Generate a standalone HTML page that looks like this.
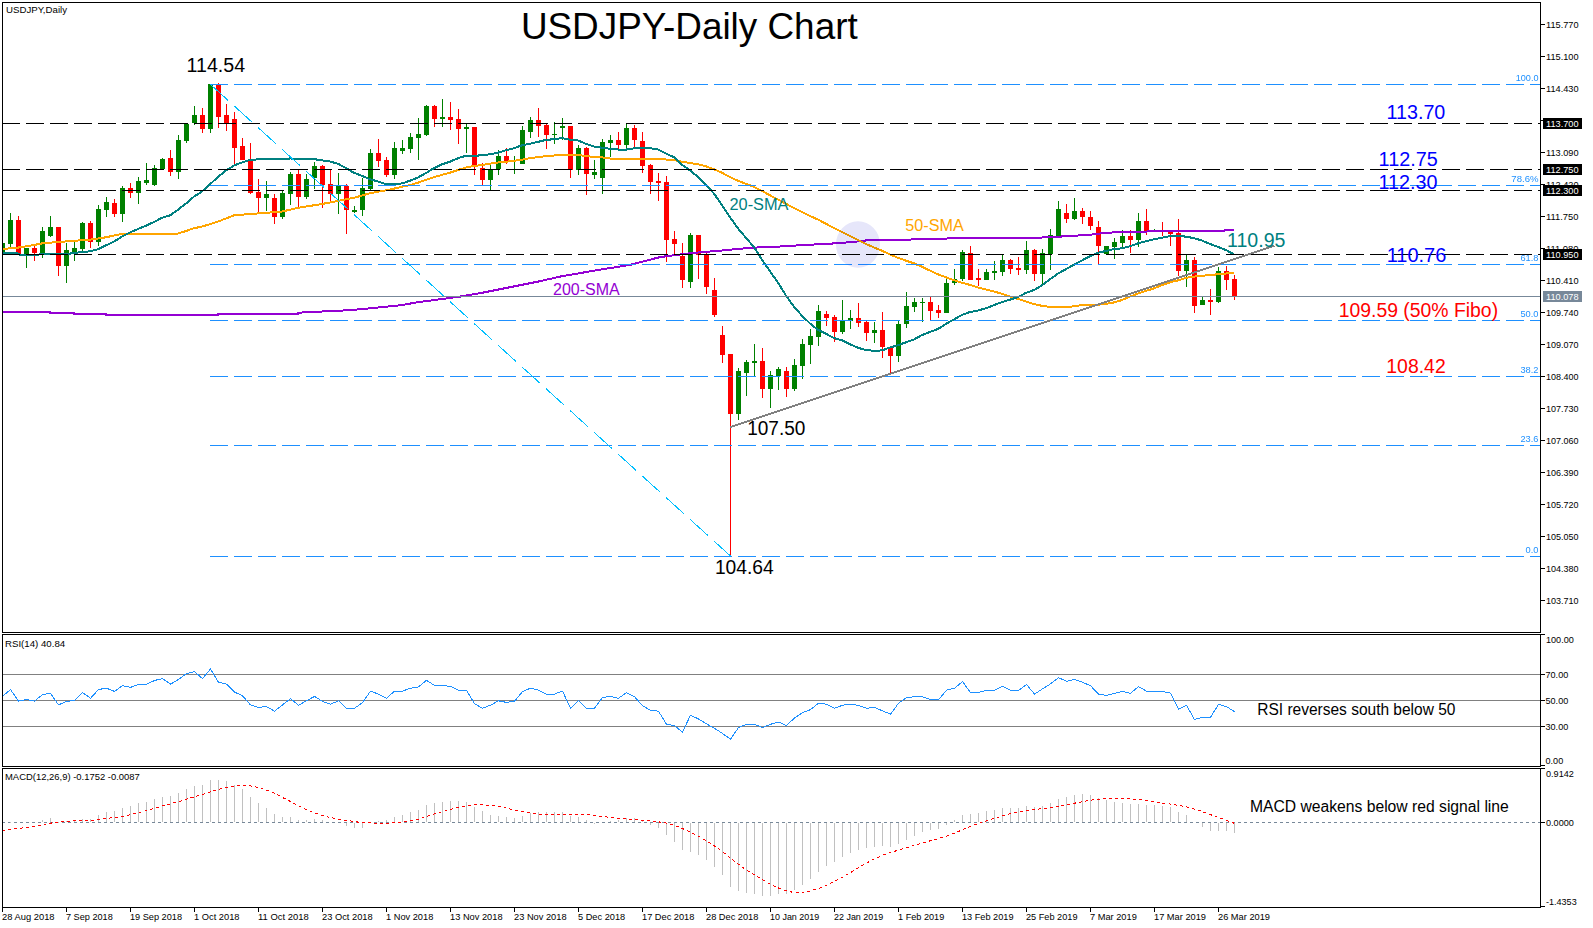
<!DOCTYPE html>
<html><head><meta charset="utf-8"><title>USDJPY-Daily Chart</title>
<style>
html,body{margin:0;padding:0;background:#fff;overflow:hidden;}
svg{display:block;}
text{font-family:"Liberation Sans", Arial, sans-serif;}
.ax{font-size:10px;fill:#000;}
.big{font-size:19px;}
</style></head><body>
<svg width="1593" height="928" viewBox="0 0 1593 928">
<rect x="0" y="0" width="1593" height="928" fill="#fff"/>
<defs><clipPath id="cm"><rect x="3" y="3" width="1537" height="629"/></clipPath>
<clipPath id="cr"><rect x="3" y="635" width="1537" height="131"/></clipPath>
<clipPath id="cd"><rect x="3" y="769" width="1537" height="138"/></clipPath></defs>

<g clip-path="url(#cm)">
<g shape-rendering="crispEdges">
<rect x="2" y="240" width="1" height="16" fill="#008000"/>
<rect x="0" y="243" width="5" height="11" fill="#008000"/>
<rect x="10" y="213" width="1" height="34" fill="#008000"/>
<rect x="8" y="220" width="5" height="24" fill="#008000"/>
<rect x="18" y="216" width="1" height="38" fill="#ff0000"/>
<rect x="16" y="220" width="5" height="34" fill="#ff0000"/>
<rect x="26" y="248" width="1" height="20" fill="#008000"/>
<rect x="24" y="248" width="5" height="7" fill="#008000"/>
<rect x="34" y="246" width="1" height="15" fill="#ff0000"/>
<rect x="32" y="248" width="5" height="5" fill="#ff0000"/>
<rect x="42" y="227" width="1" height="31" fill="#008000"/>
<rect x="40" y="231" width="5" height="22" fill="#008000"/>
<rect x="50" y="216" width="1" height="21" fill="#008000"/>
<rect x="48" y="227" width="5" height="9" fill="#008000"/>
<rect x="58" y="227" width="1" height="49" fill="#ff0000"/>
<rect x="56" y="227" width="5" height="39" fill="#ff0000"/>
<rect x="66" y="243" width="1" height="40" fill="#008000"/>
<rect x="64" y="250" width="5" height="16" fill="#008000"/>
<rect x="74" y="242" width="1" height="19" fill="#008000"/>
<rect x="72" y="248" width="5" height="4" fill="#008000"/>
<rect x="82" y="222" width="1" height="29" fill="#008000"/>
<rect x="80" y="223" width="5" height="26" fill="#008000"/>
<rect x="90" y="221" width="1" height="27" fill="#ff0000"/>
<rect x="88" y="223" width="5" height="19" fill="#ff0000"/>
<rect x="98" y="205" width="1" height="41" fill="#008000"/>
<rect x="96" y="209" width="5" height="33" fill="#008000"/>
<rect x="106" y="197" width="1" height="20" fill="#008000"/>
<rect x="104" y="202" width="5" height="8" fill="#008000"/>
<rect x="114" y="199" width="1" height="18" fill="#ff0000"/>
<rect x="112" y="203" width="5" height="11" fill="#ff0000"/>
<rect x="122" y="186" width="1" height="36" fill="#008000"/>
<rect x="120" y="188" width="5" height="26" fill="#008000"/>
<rect x="130" y="183" width="1" height="15" fill="#ff0000"/>
<rect x="128" y="188" width="5" height="5" fill="#ff0000"/>
<rect x="138" y="177" width="1" height="27" fill="#008000"/>
<rect x="136" y="181" width="5" height="12" fill="#008000"/>
<rect x="146" y="163" width="1" height="22" fill="#008000"/>
<rect x="144" y="180" width="5" height="3" fill="#008000"/>
<rect x="154" y="165" width="1" height="21" fill="#008000"/>
<rect x="152" y="168" width="5" height="17" fill="#008000"/>
<rect x="162" y="158" width="1" height="11" fill="#008000"/>
<rect x="160" y="159" width="5" height="10" fill="#008000"/>
<rect x="170" y="150" width="1" height="26" fill="#ff0000"/>
<rect x="168" y="158" width="5" height="14" fill="#ff0000"/>
<rect x="178" y="135" width="1" height="44" fill="#008000"/>
<rect x="176" y="140" width="5" height="32" fill="#008000"/>
<rect x="186" y="124" width="1" height="19" fill="#008000"/>
<rect x="184" y="124" width="5" height="17" fill="#008000"/>
<rect x="194" y="106" width="1" height="19" fill="#008000"/>
<rect x="192" y="115" width="5" height="8" fill="#008000"/>
<rect x="202" y="108" width="1" height="25" fill="#ff0000"/>
<rect x="200" y="115" width="5" height="14" fill="#ff0000"/>
<rect x="210" y="84" width="1" height="49" fill="#008000"/>
<rect x="208" y="84" width="5" height="45" fill="#008000"/>
<rect x="218" y="83" width="1" height="45" fill="#ff0000"/>
<rect x="216" y="85" width="5" height="32" fill="#ff0000"/>
<rect x="226" y="104" width="1" height="27" fill="#ff0000"/>
<rect x="224" y="115" width="5" height="8" fill="#ff0000"/>
<rect x="234" y="112" width="1" height="52" fill="#ff0000"/>
<rect x="232" y="119" width="5" height="29" fill="#ff0000"/>
<rect x="242" y="138" width="1" height="22" fill="#ff0000"/>
<rect x="240" y="146" width="5" height="14" fill="#ff0000"/>
<rect x="250" y="143" width="1" height="51" fill="#ff0000"/>
<rect x="248" y="159" width="5" height="34" fill="#ff0000"/>
<rect x="258" y="179" width="1" height="34" fill="#ff0000"/>
<rect x="256" y="192" width="5" height="6" fill="#ff0000"/>
<rect x="266" y="181" width="1" height="30" fill="#008000"/>
<rect x="264" y="194" width="5" height="4" fill="#008000"/>
<rect x="274" y="194" width="1" height="30" fill="#ff0000"/>
<rect x="272" y="198" width="5" height="19" fill="#ff0000"/>
<rect x="282" y="190" width="1" height="29" fill="#008000"/>
<rect x="280" y="193" width="5" height="24" fill="#008000"/>
<rect x="290" y="172" width="1" height="33" fill="#008000"/>
<rect x="288" y="174" width="5" height="20" fill="#008000"/>
<rect x="298" y="170" width="1" height="38" fill="#ff0000"/>
<rect x="296" y="174" width="5" height="23" fill="#ff0000"/>
<rect x="306" y="174" width="1" height="25" fill="#008000"/>
<rect x="304" y="179" width="5" height="18" fill="#008000"/>
<rect x="314" y="162" width="1" height="27" fill="#008000"/>
<rect x="312" y="166" width="5" height="12" fill="#008000"/>
<rect x="322" y="165" width="1" height="43" fill="#ff0000"/>
<rect x="320" y="166" width="5" height="19" fill="#ff0000"/>
<rect x="330" y="170" width="1" height="31" fill="#ff0000"/>
<rect x="328" y="184" width="5" height="10" fill="#ff0000"/>
<rect x="338" y="173" width="1" height="41" fill="#008000"/>
<rect x="336" y="186" width="5" height="8" fill="#008000"/>
<rect x="346" y="184" width="1" height="50" fill="#ff0000"/>
<rect x="344" y="186" width="5" height="24" fill="#ff0000"/>
<rect x="354" y="206" width="1" height="7" fill="#008000"/>
<rect x="352" y="210" width="5" height="2" fill="#008000"/>
<rect x="362" y="178" width="1" height="38" fill="#008000"/>
<rect x="360" y="188" width="5" height="22" fill="#008000"/>
<rect x="370" y="149" width="1" height="41" fill="#008000"/>
<rect x="368" y="153" width="5" height="36" fill="#008000"/>
<rect x="378" y="139" width="1" height="28" fill="#ff0000"/>
<rect x="376" y="153" width="5" height="8" fill="#ff0000"/>
<rect x="386" y="157" width="1" height="20" fill="#ff0000"/>
<rect x="384" y="160" width="5" height="15" fill="#ff0000"/>
<rect x="394" y="142" width="1" height="37" fill="#008000"/>
<rect x="392" y="148" width="5" height="27" fill="#008000"/>
<rect x="402" y="140" width="1" height="14" fill="#008000"/>
<rect x="400" y="148" width="5" height="3" fill="#008000"/>
<rect x="410" y="133" width="1" height="20" fill="#008000"/>
<rect x="408" y="137" width="5" height="12" fill="#008000"/>
<rect x="418" y="118" width="1" height="42" fill="#008000"/>
<rect x="416" y="134" width="5" height="4" fill="#008000"/>
<rect x="426" y="105" width="1" height="31" fill="#008000"/>
<rect x="424" y="106" width="5" height="29" fill="#008000"/>
<rect x="434" y="105" width="1" height="22" fill="#ff0000"/>
<rect x="432" y="106" width="5" height="13" fill="#ff0000"/>
<rect x="442" y="99" width="1" height="28" fill="#008000"/>
<rect x="440" y="117" width="5" height="2" fill="#008000"/>
<rect x="450" y="102" width="1" height="28" fill="#ff0000"/>
<rect x="448" y="117" width="5" height="3" fill="#ff0000"/>
<rect x="458" y="109" width="1" height="35" fill="#ff0000"/>
<rect x="456" y="119" width="5" height="10" fill="#ff0000"/>
<rect x="466" y="124" width="1" height="29" fill="#008000"/>
<rect x="464" y="127" width="5" height="2" fill="#008000"/>
<rect x="474" y="127" width="1" height="48" fill="#ff0000"/>
<rect x="472" y="127" width="5" height="39" fill="#ff0000"/>
<rect x="482" y="163" width="1" height="22" fill="#ff0000"/>
<rect x="480" y="168" width="5" height="12" fill="#ff0000"/>
<rect x="490" y="165" width="1" height="25" fill="#008000"/>
<rect x="488" y="170" width="5" height="10" fill="#008000"/>
<rect x="498" y="150" width="1" height="25" fill="#008000"/>
<rect x="496" y="156" width="5" height="13" fill="#008000"/>
<rect x="506" y="148" width="1" height="16" fill="#ff0000"/>
<rect x="504" y="156" width="5" height="5" fill="#ff0000"/>
<rect x="514" y="156" width="1" height="18" fill="#008000"/>
<rect x="512" y="169" width="5" height="1" fill="#008000"/>
<rect x="522" y="126" width="1" height="38" fill="#008000"/>
<rect x="520" y="130" width="5" height="34" fill="#008000"/>
<rect x="530" y="117" width="1" height="21" fill="#008000"/>
<rect x="528" y="120" width="5" height="12" fill="#008000"/>
<rect x="538" y="108" width="1" height="29" fill="#ff0000"/>
<rect x="536" y="120" width="5" height="6" fill="#ff0000"/>
<rect x="546" y="124" width="1" height="25" fill="#ff0000"/>
<rect x="544" y="125" width="5" height="10" fill="#ff0000"/>
<rect x="554" y="122" width="1" height="22" fill="#008000"/>
<rect x="552" y="134" width="5" height="1" fill="#008000"/>
<rect x="562" y="118" width="1" height="22" fill="#008000"/>
<rect x="560" y="126" width="5" height="2" fill="#008000"/>
<rect x="570" y="126" width="1" height="52" fill="#ff0000"/>
<rect x="568" y="126" width="5" height="44" fill="#ff0000"/>
<rect x="578" y="145" width="1" height="30" fill="#008000"/>
<rect x="576" y="148" width="5" height="22" fill="#008000"/>
<rect x="586" y="147" width="1" height="48" fill="#ff0000"/>
<rect x="584" y="148" width="5" height="26" fill="#ff0000"/>
<rect x="594" y="160" width="1" height="19" fill="#008000"/>
<rect x="592" y="172" width="5" height="3" fill="#008000"/>
<rect x="602" y="139" width="1" height="55" fill="#008000"/>
<rect x="600" y="142" width="5" height="36" fill="#008000"/>
<rect x="610" y="135" width="1" height="22" fill="#008000"/>
<rect x="608" y="140" width="5" height="3" fill="#008000"/>
<rect x="618" y="132" width="1" height="19" fill="#ff0000"/>
<rect x="616" y="140" width="5" height="5" fill="#ff0000"/>
<rect x="626" y="124" width="1" height="24" fill="#008000"/>
<rect x="624" y="128" width="5" height="17" fill="#008000"/>
<rect x="634" y="125" width="1" height="22" fill="#ff0000"/>
<rect x="632" y="128" width="5" height="12" fill="#ff0000"/>
<rect x="642" y="132" width="1" height="41" fill="#ff0000"/>
<rect x="640" y="141" width="5" height="25" fill="#ff0000"/>
<rect x="650" y="164" width="1" height="30" fill="#ff0000"/>
<rect x="648" y="165" width="5" height="17" fill="#ff0000"/>
<rect x="658" y="173" width="1" height="28" fill="#ff0000"/>
<rect x="656" y="181" width="5" height="2" fill="#ff0000"/>
<rect x="666" y="176" width="1" height="86" fill="#ff0000"/>
<rect x="664" y="182" width="5" height="58" fill="#ff0000"/>
<rect x="674" y="231" width="1" height="24" fill="#ff0000"/>
<rect x="672" y="239" width="5" height="5" fill="#ff0000"/>
<rect x="682" y="243" width="1" height="45" fill="#ff0000"/>
<rect x="680" y="256" width="5" height="24" fill="#ff0000"/>
<rect x="690" y="233" width="1" height="55" fill="#008000"/>
<rect x="688" y="235" width="5" height="47" fill="#008000"/>
<rect x="698" y="235" width="1" height="44" fill="#ff0000"/>
<rect x="696" y="235" width="5" height="20" fill="#ff0000"/>
<rect x="706" y="253" width="1" height="41" fill="#ff0000"/>
<rect x="704" y="254" width="5" height="33" fill="#ff0000"/>
<rect x="714" y="278" width="1" height="39" fill="#ff0000"/>
<rect x="712" y="290" width="5" height="25" fill="#ff0000"/>
<rect x="722" y="326" width="1" height="37" fill="#ff0000"/>
<rect x="720" y="335" width="5" height="20" fill="#ff0000"/>
<rect x="730" y="354" width="1" height="202" fill="#ff0000"/>
<rect x="728" y="354" width="5" height="60" fill="#ff0000"/>
<rect x="738" y="368" width="1" height="52" fill="#008000"/>
<rect x="736" y="371" width="5" height="43" fill="#008000"/>
<rect x="746" y="360" width="1" height="36" fill="#008000"/>
<rect x="744" y="362" width="5" height="11" fill="#008000"/>
<rect x="754" y="344" width="1" height="32" fill="#008000"/>
<rect x="752" y="361" width="5" height="2" fill="#008000"/>
<rect x="762" y="348" width="1" height="50" fill="#ff0000"/>
<rect x="760" y="361" width="5" height="28" fill="#ff0000"/>
<rect x="770" y="371" width="1" height="37" fill="#008000"/>
<rect x="768" y="375" width="5" height="14" fill="#008000"/>
<rect x="778" y="367" width="1" height="23" fill="#008000"/>
<rect x="776" y="369" width="5" height="7" fill="#008000"/>
<rect x="786" y="367" width="1" height="30" fill="#ff0000"/>
<rect x="784" y="371" width="5" height="18" fill="#ff0000"/>
<rect x="794" y="359" width="1" height="32" fill="#008000"/>
<rect x="792" y="365" width="5" height="24" fill="#008000"/>
<rect x="802" y="339" width="1" height="40" fill="#008000"/>
<rect x="800" y="344" width="5" height="22" fill="#008000"/>
<rect x="810" y="329" width="1" height="35" fill="#008000"/>
<rect x="808" y="336" width="5" height="9" fill="#008000"/>
<rect x="818" y="305" width="1" height="41" fill="#008000"/>
<rect x="816" y="311" width="5" height="26" fill="#008000"/>
<rect x="826" y="311" width="1" height="15" fill="#ff0000"/>
<rect x="824" y="314" width="5" height="4" fill="#ff0000"/>
<rect x="834" y="315" width="1" height="27" fill="#ff0000"/>
<rect x="832" y="317" width="5" height="15" fill="#ff0000"/>
<rect x="842" y="300" width="1" height="34" fill="#008000"/>
<rect x="840" y="321" width="5" height="11" fill="#008000"/>
<rect x="850" y="310" width="1" height="19" fill="#008000"/>
<rect x="848" y="318" width="5" height="3" fill="#008000"/>
<rect x="858" y="303" width="1" height="24" fill="#ff0000"/>
<rect x="856" y="318" width="5" height="5" fill="#ff0000"/>
<rect x="866" y="321" width="1" height="20" fill="#ff0000"/>
<rect x="864" y="322" width="5" height="11" fill="#ff0000"/>
<rect x="874" y="322" width="1" height="21" fill="#008000"/>
<rect x="872" y="330" width="5" height="3" fill="#008000"/>
<rect x="882" y="312" width="1" height="46" fill="#ff0000"/>
<rect x="880" y="330" width="5" height="17" fill="#ff0000"/>
<rect x="890" y="346" width="1" height="27" fill="#ff0000"/>
<rect x="888" y="347" width="5" height="9" fill="#ff0000"/>
<rect x="898" y="321" width="1" height="41" fill="#008000"/>
<rect x="896" y="324" width="5" height="32" fill="#008000"/>
<rect x="906" y="292" width="1" height="36" fill="#008000"/>
<rect x="904" y="306" width="5" height="18" fill="#008000"/>
<rect x="914" y="298" width="1" height="14" fill="#008000"/>
<rect x="912" y="302" width="5" height="5" fill="#008000"/>
<rect x="922" y="298" width="1" height="24" fill="#008000"/>
<rect x="920" y="302" width="5" height="1" fill="#008000"/>
<rect x="930" y="296" width="1" height="24" fill="#ff0000"/>
<rect x="928" y="302" width="5" height="9" fill="#ff0000"/>
<rect x="938" y="305" width="1" height="13" fill="#ff0000"/>
<rect x="936" y="310" width="5" height="3" fill="#ff0000"/>
<rect x="946" y="279" width="1" height="34" fill="#008000"/>
<rect x="944" y="283" width="5" height="30" fill="#008000"/>
<rect x="954" y="269" width="1" height="16" fill="#008000"/>
<rect x="952" y="279" width="5" height="4" fill="#008000"/>
<rect x="962" y="250" width="1" height="31" fill="#008000"/>
<rect x="960" y="252" width="5" height="27" fill="#008000"/>
<rect x="970" y="246" width="1" height="34" fill="#ff0000"/>
<rect x="968" y="253" width="5" height="27" fill="#ff0000"/>
<rect x="978" y="269" width="1" height="17" fill="#ff0000"/>
<rect x="976" y="278" width="5" height="2" fill="#ff0000"/>
<rect x="986" y="269" width="1" height="11" fill="#008000"/>
<rect x="984" y="272" width="5" height="8" fill="#008000"/>
<rect x="994" y="261" width="1" height="19" fill="#008000"/>
<rect x="992" y="271" width="5" height="2" fill="#008000"/>
<rect x="1002" y="255" width="1" height="21" fill="#008000"/>
<rect x="1000" y="260" width="5" height="12" fill="#008000"/>
<rect x="1010" y="259" width="1" height="15" fill="#ff0000"/>
<rect x="1008" y="260" width="5" height="9" fill="#ff0000"/>
<rect x="1018" y="257" width="1" height="18" fill="#ff0000"/>
<rect x="1016" y="268" width="5" height="2" fill="#ff0000"/>
<rect x="1026" y="241" width="1" height="33" fill="#008000"/>
<rect x="1024" y="250" width="5" height="20" fill="#008000"/>
<rect x="1034" y="249" width="1" height="32" fill="#ff0000"/>
<rect x="1032" y="250" width="5" height="24" fill="#ff0000"/>
<rect x="1042" y="249" width="1" height="35" fill="#008000"/>
<rect x="1040" y="253" width="5" height="21" fill="#008000"/>
<rect x="1050" y="229" width="1" height="41" fill="#008000"/>
<rect x="1048" y="235" width="5" height="19" fill="#008000"/>
<rect x="1058" y="201" width="1" height="35" fill="#008000"/>
<rect x="1056" y="209" width="5" height="27" fill="#008000"/>
<rect x="1066" y="204" width="1" height="19" fill="#ff0000"/>
<rect x="1064" y="213" width="5" height="6" fill="#ff0000"/>
<rect x="1074" y="198" width="1" height="22" fill="#008000"/>
<rect x="1072" y="211" width="5" height="8" fill="#008000"/>
<rect x="1082" y="208" width="1" height="16" fill="#ff0000"/>
<rect x="1080" y="211" width="5" height="6" fill="#ff0000"/>
<rect x="1090" y="211" width="1" height="19" fill="#ff0000"/>
<rect x="1088" y="217" width="5" height="9" fill="#ff0000"/>
<rect x="1098" y="221" width="1" height="43" fill="#ff0000"/>
<rect x="1096" y="227" width="5" height="19" fill="#ff0000"/>
<rect x="1106" y="246" width="1" height="8" fill="#008000"/>
<rect x="1104" y="246" width="5" height="8" fill="#008000"/>
<rect x="1114" y="238" width="1" height="21" fill="#008000"/>
<rect x="1112" y="242" width="5" height="5" fill="#008000"/>
<rect x="1122" y="230" width="1" height="18" fill="#008000"/>
<rect x="1120" y="236" width="5" height="7" fill="#008000"/>
<rect x="1130" y="230" width="1" height="23" fill="#ff0000"/>
<rect x="1128" y="236" width="5" height="4" fill="#ff0000"/>
<rect x="1138" y="213" width="1" height="34" fill="#008000"/>
<rect x="1136" y="221" width="5" height="19" fill="#008000"/>
<rect x="1146" y="209" width="1" height="26" fill="#ff0000"/>
<rect x="1144" y="221" width="5" height="10" fill="#ff0000"/>
<rect x="1154" y="229" width="1" height="3" fill="#008000"/>
<rect x="1152" y="230" width="5" height="1.5" fill="#008000"/>
<rect x="1162" y="222" width="1" height="14" fill="#ff0000"/>
<rect x="1160" y="230" width="5" height="1" fill="#ff0000"/>
<rect x="1170" y="230" width="1" height="16" fill="#ff0000"/>
<rect x="1168" y="231" width="5" height="3" fill="#ff0000"/>
<rect x="1178" y="219" width="1" height="57" fill="#ff0000"/>
<rect x="1176" y="233" width="5" height="38" fill="#ff0000"/>
<rect x="1186" y="255" width="1" height="32" fill="#008000"/>
<rect x="1184" y="260" width="5" height="11" fill="#008000"/>
<rect x="1194" y="257" width="1" height="56" fill="#ff0000"/>
<rect x="1192" y="260" width="5" height="46" fill="#ff0000"/>
<rect x="1202" y="296" width="1" height="9" fill="#008000"/>
<rect x="1200" y="300" width="5" height="5" fill="#008000"/>
<rect x="1210" y="289" width="1" height="26" fill="#ff0000"/>
<rect x="1208" y="300" width="5" height="2" fill="#ff0000"/>
<rect x="1218" y="267" width="1" height="36" fill="#008000"/>
<rect x="1216" y="271" width="5" height="31" fill="#008000"/>
<rect x="1226" y="266" width="1" height="24" fill="#ff0000"/>
<rect x="1224" y="271" width="5" height="9" fill="#ff0000"/>
<rect x="1234" y="275" width="1" height="25" fill="#ff0000"/>
<rect x="1232" y="279" width="5" height="17" fill="#ff0000"/>
</g>
<polyline points="2,311.9 50,311.9 50,313.3 74,313.3 74,314.3 106,314.3 106,314.9 218,314.9 218,313.9 298,313.9 298,312.7 314,311.9 340,310.7 360,309.3 380,307.3 400,305.3 420,301.9 440,299.3 460,296.6 480,293.2 500,289.2 520,285.2 540,281.2 560,276.6 580,273.1 600,269.7 630,264.9 660,257.1 690,253.2 720,250.7 750,247.8 780,246.5 810,244.7 830,243.7 845,242.6 855,241.7 870,240 920,239.4 960,238.1 1000,238.1 1040,237.6 1060,236.6 1090,234.8 1106,232.7 1154,231.3 1170,230.6 1186,230.6 1218,231 1226,230.4 1234,230" fill="none" stroke="#9400d3" stroke-width="2" shape-rendering="crispEdges" stroke-linejoin="round"/>
<polyline points="2,249 18,247.6 34,245 42,243.4 58,242 74,240.8 90,239.7 106,237.3 122,233.8 146,233.6 178,233.6 186,231 194,228.2 202,226.6 218,221.6 234,215.3 258,213.4 282,211.6 298,207.8 322,204 338,200.9 354,197.8 370,193.2 386,190.3 394,188.64 402,186.74 410,185.08 418,182.68 426,179.84 434,177.16 442,174.88 450,172.74 458,170 466,167.54 474,165.9 482,165.04 490,163.6 498,162.54 506,161.72 514,160.82 522,159.66 530,158.2 538,157.1 546,156.2 554,155.52 562,154.86 570,154.82 578,154.98 586,155.98 594,157.12 602,157.38 610,158.5 618,159.06 626,159.16 634,159 642,159.12 650,158.9 658,158.6 666,159.52 674,160.06 682,161.8 690,163.02 698,164.18 706,166.34 714,169.32 722,172.72 730,177.12 738,180.82 746,183.86 754,186.88 762,190.9 770,195.34 778,199.5 786,203.78 794,208.12 802,212.04 810,216.02 818,219.56 826,223.8 834,228.06 842,232.14 850,236.1 858,239.98 866,244.1 874,247.38 882,250.72 890,254.44 898,257.8 906,260.7 914,263.36 922,266.8 930,270.62 938,274.36 946,277.32 954,280.22 962,282.74 970,284.94 978,287.58 986,289.54 994,291.52 1002,293.88 1010,296.46 1018,298.96 1026,301.4 1034,304.08 1042,305.82 1050,306.88 1058,307.4 1066,306.98 1074,306.32 1082,305.06 1090,304.88 1098,304.7 1106,303.88 1114,302.42 1122,300.04 1130,296.56 1138,293.56 1146,290.94 1154,288.32 1162,285.16 1170,282.34 1178,280.38 1186,277.8 1194,276.62 1202,275.74 1210,275.06 1218,274.26 1226,273.5 1234,272.78" fill="none" stroke="#ffa500" stroke-width="2" shape-rendering="crispEdges" stroke-linejoin="round"/>
<polyline points="2,252.7 18,253.5 20,254.8 66,254.1 82,252 90,251.3 98,249.2 114,241.5 122,236.6 130,232.4 146,225.7 154,222 162,217.8 170,215.4 178,209.7 186,203.5 194,196.6 202,191.5 210,184.35 218,176.9 226,170.55 234,165.55 242,162.4 250,159.95 258,159.4 266,159 274,159.15 282,159.4 290,158.45 298,159.25 306,159.2 314,159.1 322,160.4 330,161.5 338,163.8 346,168.1 354,172.85 362,175.8 370,179.25 378,181.45 386,184.05 394,184.05 402,183.45 410,180.65 418,177.45 426,173.05 434,168.15 442,164.35 450,161.65 458,158.25 466,155.65 474,155.65 482,155.4 490,154.2 498,152.7 506,150.25 514,148.2 522,145.3 530,143.65 538,141.9 546,139.9 554,139.2 562,138.1 570,139.75 578,140.45 586,143.85 594,146.5 602,147.75 610,148.75 618,149.55 626,149.6 634,148.3 642,147.6 650,148.2 658,149.55 666,153.5 674,157.25 682,164.75 690,170.5 698,176.95 706,184.55 714,193.6 722,205.05 730,217.25 738,228.4 746,237.8 754,247.25 762,259.6 770,271.35 778,282.55 786,295.6 794,306.85 802,315.75 810,323.45 818,329.85 826,333.75 834,338.15 842,340.2 850,344.35 858,347.75 866,350.05 874,350.8 882,350.4 890,347.5 898,345.15 906,342.35 914,339.4 922,335.05 930,331.85 938,329.05 946,323.75 954,319.45 962,314.85 970,312.05 978,310.5 986,308.2 994,305.15 1002,302.1 1010,299.65 1018,297 1026,292.85 1034,290.05 1042,285.35 1050,279.3 1058,273.55 1066,269.2 1074,264.65 1082,260.4 1090,256.15 1098,252.8 1106,250.95 1114,249.1 1122,248.3 1130,246.3 1138,243.35 1146,241.3 1154,239.25 1162,237.8 1170,236.05 1178,236.1 1186,236.6 1194,238.2 1202,240.55 1210,243.9 1218,247 1226,250.05 1234,254.3" fill="none" stroke="#008080" stroke-width="2" shape-rendering="crispEdges" stroke-linejoin="round"/>
<g shape-rendering="crispEdges" stroke="#000" stroke-width="1" stroke-dasharray="18 6">
<line x1="2" y1="123.5" x2="1540" y2="123.5"/>
<line x1="2" y1="169.5" x2="1540" y2="169.5"/>
<line x1="2" y1="190.5" x2="1540" y2="190.5"/>
<line x1="2" y1="254.5" x2="1540" y2="254.5"/>
</g>
<line x1="2" y1="296.5" x2="1540" y2="296.5" stroke="#778899" stroke-width="1" shape-rendering="crispEdges"/>
<g shape-rendering="crispEdges" stroke="#1e90ff" stroke-width="1" stroke-dasharray="18 6">
<line x1="210" y1="84.5" x2="1540" y2="84.5"/>
<line x1="210" y1="185.5" x2="1540" y2="185.5"/>
<line x1="210" y1="264.5" x2="1540" y2="264.5"/>
<line x1="210" y1="320.5" x2="1540" y2="320.5"/>
<line x1="210" y1="376.5" x2="1540" y2="376.5"/>
<line x1="210" y1="445.5" x2="1540" y2="445.5"/>
<line x1="210" y1="556.5" x2="1540" y2="556.5"/>
</g>
<line x1="210" y1="84" x2="730.5" y2="556" stroke="#00bfff" stroke-width="1" stroke-dasharray="24.3 8.1" shape-rendering="crispEdges"/>
<text x="1538.5" y="81" font-size="9.5" fill="#1e90ff" textLength="22.75" lengthAdjust="spacingAndGlyphs" text-anchor="end" style="font-family:"DejaVu Sans Condensed", "DejaVu Sans", sans-serif;font-stretch:condensed">100.0</text>
<text x="1538.5" y="182" font-size="9.5" fill="#1e90ff" textLength="27.15" lengthAdjust="spacingAndGlyphs" text-anchor="end" style="font-family:"DejaVu Sans Condensed", "DejaVu Sans", sans-serif;font-stretch:condensed">78.6%</text>
<text x="1538.5" y="261" font-size="9.5" fill="#1e90ff" textLength="18.07" lengthAdjust="spacingAndGlyphs" text-anchor="end" style="font-family:"DejaVu Sans Condensed", "DejaVu Sans", sans-serif;font-stretch:condensed">61.8</text>
<text x="1538.5" y="317" font-size="9.5" fill="#1e90ff" textLength="18.07" lengthAdjust="spacingAndGlyphs" text-anchor="end" style="font-family:"DejaVu Sans Condensed", "DejaVu Sans", sans-serif;font-stretch:condensed">50.0</text>
<text x="1538.5" y="373" font-size="9.5" fill="#1e90ff" textLength="18.07" lengthAdjust="spacingAndGlyphs" text-anchor="end" style="font-family:"DejaVu Sans Condensed", "DejaVu Sans", sans-serif;font-stretch:condensed">38.2</text>
<text x="1538.5" y="442" font-size="9.5" fill="#1e90ff" textLength="18.07" lengthAdjust="spacingAndGlyphs" text-anchor="end" style="font-family:"DejaVu Sans Condensed", "DejaVu Sans", sans-serif;font-stretch:condensed">23.6</text>
<text x="1538.5" y="553" font-size="9.5" fill="#1e90ff" textLength="12.91" lengthAdjust="spacingAndGlyphs" text-anchor="end" style="font-family:"DejaVu Sans Condensed", "DejaVu Sans", sans-serif;font-stretch:condensed">0.0</text>
<line x1="730" y1="427.2" x2="1274.3" y2="245.8" stroke="#808080" stroke-width="2" shape-rendering="crispEdges"/>
<ellipse cx="858" cy="244.5" rx="22" ry="23.2" fill="#e6e6fa" style="mix-blend-mode:multiply"/>
</g>
<text x="520.9" y="39.4" font-size="36.5" fill="#000" textLength="336.79" lengthAdjust="spacingAndGlyphs">USDJPY-Daily Chart</text>
<text x="6" y="12.5" font-size="9.5" fill="#000" textLength="61.00" lengthAdjust="spacingAndGlyphs" style="font-family:"DejaVu Sans Condensed", "DejaVu Sans", sans-serif;font-stretch:condensed">USDJPY,Daily</text>
<text x="186.5" y="71.9" font-size="19.5" fill="#000" textLength="58.62" lengthAdjust="spacingAndGlyphs">114.54</text>
<text x="747.2" y="434.9" font-size="19.5" fill="#000" textLength="58.22" lengthAdjust="spacingAndGlyphs">107.50</text>
<text x="714.9" y="573.9" font-size="19.5" fill="#000" textLength="58.84" lengthAdjust="spacingAndGlyphs">104.64</text>
<text x="1386.5" y="119.3" font-size="19.5" fill="#0000ff" textLength="58.81" lengthAdjust="spacingAndGlyphs">113.70</text>
<text x="1378.6" y="165.7" font-size="19.5" fill="#0000ff" textLength="59.07" lengthAdjust="spacingAndGlyphs">112.75</text>
<text x="1378.6" y="188.7" font-size="19.5" fill="#0000ff" textLength="59.02" lengthAdjust="spacingAndGlyphs">112.30</text>
<text x="1386.7" y="262.2" font-size="19.5" fill="#0000ff" textLength="59.67" lengthAdjust="spacingAndGlyphs">110.76</text>
<text x="1338.7" y="316.9" font-size="19.5" fill="#ff0000" textLength="159.42" lengthAdjust="spacingAndGlyphs">109.59 (50% Fibo)</text>
<text x="1386.3" y="372.8" font-size="19.5" fill="#ff0000" textLength="59.45" lengthAdjust="spacingAndGlyphs">108.42</text>
<text x="1227.0" y="246.8" font-size="19.5" fill="#008080" textLength="58.43" lengthAdjust="spacingAndGlyphs">110.95</text>
<text x="729.5" y="210.0" font-size="16.0" fill="#008080" textLength="59.02" lengthAdjust="spacingAndGlyphs">20-SMA</text>
<text x="905.3" y="230.8" font-size="16.0" fill="#ffa500" textLength="58.4" lengthAdjust="spacingAndGlyphs">50-SMA</text>
<text x="553.0" y="295.2" font-size="16.0" fill="#9400d3" textLength="66.7" lengthAdjust="spacingAndGlyphs">200-SMA</text>
<g shape-rendering="crispEdges" stroke="#808080" stroke-width="1">
<line x1="2" y1="674.5" x2="1540" y2="674.5"/>
<line x1="2" y1="700.5" x2="1540" y2="700.5"/>
<line x1="2" y1="726.5" x2="1540" y2="726.5"/>
</g>
<g clip-path="url(#cr)"><polyline points="2.5,696.4 10.5,689.5 18.5,701.2 26.5,699.5 34.5,701.2 42.5,694.5 50.5,693.3 58.5,704.9 66.5,701.4 74.5,700.4 82.5,692.4 90.5,698.3 98.5,689.5 106.5,688.2 114.5,691.4 122.5,685.7 130.5,687.4 138.5,684.5 146.5,684.2 154.5,680.5 162.5,678.6 170.5,684.1 178.5,679.5 186.5,673.6 194.5,671.6 202.5,678.6 210.5,669 218.5,682.3 226.5,684.1 234.5,692 242.5,695.8 250.5,704.9 258.5,707.5 266.5,706.5 274.5,711.2 282.5,704.9 290.5,698.7 298.5,705.2 306.5,700.8 314.5,696.4 322.5,701.4 330.5,704.2 338.5,700.8 346.5,708.3 354.5,708.3 362.5,702.7 370.5,691.1 378.5,694.1 386.5,698.3 394.5,691.1 402.5,691.1 410.5,688.2 418.5,687 426.5,680.3 434.5,685.4 442.5,685.4 450.5,686.4 458.5,690.1 466.5,690.1 474.5,703.7 482.5,708.3 490.5,705.2 498.5,700.8 506.5,702.4 514.5,701.2 522.5,691.6 530.5,688.2 538.5,690.1 546.5,694.1 554.5,694.1 562.5,691.1 570.5,708.3 578.5,700.8 586.5,708.3 594.5,708.3 602.5,697.4 610.5,696.4 618.5,698.3 626.5,692.6 634.5,696.7 642.5,705.8 650.5,710.2 658.5,711.2 666.5,724.3 674.5,725.5 682.5,732.2 690.5,715.2 698.5,719 706.5,723.8 714.5,728.4 722.5,733.4 730.5,739.3 738.5,727.5 746.5,724.4 754.5,724.4 762.5,727.5 770.5,724.3 778.5,722.1 786.5,725.5 794.5,718 802.5,712.7 810.5,709.6 818.5,703.3 826.5,704.2 834.5,708.3 842.5,705.2 850.5,704.2 858.5,705.4 866.5,708.3 874.5,707.5 882.5,710.8 890.5,714.2 898.5,703.3 906.5,697.7 914.5,696.7 922.5,696.7 930.5,699.5 938.5,699.9 946.5,690.1 954.5,688.2 962.5,681.6 970.5,692.4 978.5,692.4 986.5,690.4 994.5,690.4 1002.5,686.1 1010.5,690.1 1018.5,690.4 1026.5,684.5 1034.5,694.1 1042.5,688.9 1050.5,683.9 1058.5,677.6 1066.5,681.3 1074.5,679.5 1082.5,682.3 1090.5,685.7 1098.5,694.1 1106.5,695.4 1114.5,693.3 1122.5,691.4 1130.5,693.3 1138.5,686.6 1146.5,691.2 1154.5,691.5 1162.5,691.5 1170.5,693.2 1178.5,709.3 1186.5,705.3 1194.5,719.5 1202.5,717.3 1210.5,717.3 1218.5,704.4 1226.5,706.6 1234.5,711.6" fill="none" stroke="#1e90ff" stroke-width="1" shape-rendering="crispEdges"/></g>
<text x="5" y="646.6" font-size="9.5" fill="#000" textLength="60.20" lengthAdjust="spacingAndGlyphs" style="font-family:"DejaVu Sans Condensed", "DejaVu Sans", sans-serif;font-stretch:condensed">RSI(14) 40.84</text>
<text x="1257.3" y="714.9" font-size="16.0" fill="#000" textLength="198.1" lengthAdjust="spacingAndGlyphs">RSI reverses south below 50</text>
<line x1="2" y1="822.5" x2="1540" y2="822.5" stroke="#778899" stroke-width="1" stroke-dasharray="3 3" shape-rendering="crispEdges"/>
<g clip-path="url(#cd)" shape-rendering="crispEdges" fill="#c0c0c0">
<rect x="10" y="821.7" width="1" height="1"/>
<rect x="42" y="820.2" width="1" height="1.8"/>
<rect x="50" y="818.2" width="1" height="3.8"/>
<rect x="58" y="821.7" width="1" height="1"/>
<rect x="66" y="821" width="1" height="1"/>
<rect x="74" y="820" width="1" height="2"/>
<rect x="82" y="819.2" width="1" height="2.8"/>
<rect x="90" y="819.2" width="1" height="2.8"/>
<rect x="98" y="815.2" width="1" height="6.8"/>
<rect x="106" y="812.2" width="1" height="9.8"/>
<rect x="114" y="811.2" width="1" height="10.8"/>
<rect x="122" y="808.2" width="1" height="13.8"/>
<rect x="130" y="806.2" width="1" height="15.8"/>
<rect x="138" y="803.1" width="1" height="18.9"/>
<rect x="146" y="802.1" width="1" height="19.9"/>
<rect x="154" y="799.1" width="1" height="22.9"/>
<rect x="162" y="797.1" width="1" height="24.9"/>
<rect x="170" y="796.1" width="1" height="25.9"/>
<rect x="178" y="793.1" width="1" height="28.9"/>
<rect x="186" y="789.1" width="1" height="32.9"/>
<rect x="194" y="786.1" width="1" height="35.9"/>
<rect x="202" y="785.1" width="1" height="36.9"/>
<rect x="210" y="780" width="1" height="42"/>
<rect x="218" y="780" width="1" height="42"/>
<rect x="226" y="781" width="1" height="41"/>
<rect x="234" y="785.1" width="1" height="36.9"/>
<rect x="242" y="789.1" width="1" height="32.9"/>
<rect x="250" y="797.1" width="1" height="24.9"/>
<rect x="258" y="803.1" width="1" height="18.9"/>
<rect x="266" y="808.2" width="1" height="13.8"/>
<rect x="274" y="814" width="1" height="8"/>
<rect x="282" y="817" width="1" height="5"/>
<rect x="290" y="817" width="1" height="5"/>
<rect x="298" y="819.9" width="1" height="2.1"/>
<rect x="306" y="820.2" width="1" height="1.8"/>
<rect x="314" y="818.9" width="1" height="3.1"/>
<rect x="322" y="819.9" width="1" height="2.1"/>
<rect x="346" y="823" width="1" height="2.8"/>
<rect x="354" y="823" width="1" height="4.7"/>
<rect x="362" y="823" width="1" height="4.7"/>
<rect x="378" y="821.2" width="1" height="1"/>
<rect x="386" y="819.9" width="1" height="2.1"/>
<rect x="394" y="817" width="1" height="5"/>
<rect x="402" y="815.2" width="1" height="6.8"/>
<rect x="410" y="812" width="1" height="10"/>
<rect x="418" y="810.1" width="1" height="11.9"/>
<rect x="426" y="805.1" width="1" height="16.9"/>
<rect x="434" y="803.2" width="1" height="18.8"/>
<rect x="442" y="802" width="1" height="20"/>
<rect x="450" y="801.1" width="1" height="20.9"/>
<rect x="458" y="801.1" width="1" height="20.9"/>
<rect x="466" y="802" width="1" height="20"/>
<rect x="474" y="807" width="1" height="15"/>
<rect x="482" y="811.1" width="1" height="10.9"/>
<rect x="490" y="815.1" width="1" height="6.9"/>
<rect x="498" y="816.1" width="1" height="5.9"/>
<rect x="506" y="817" width="1" height="5"/>
<rect x="514" y="818.2" width="1" height="3.8"/>
<rect x="522" y="816.1" width="1" height="5.9"/>
<rect x="530" y="813.2" width="1" height="8.8"/>
<rect x="538" y="812.3" width="1" height="9.7"/>
<rect x="546" y="812" width="1" height="10"/>
<rect x="554" y="812" width="1" height="10"/>
<rect x="562" y="812.3" width="1" height="9.7"/>
<rect x="570" y="815.7" width="1" height="6.3"/>
<rect x="578" y="817" width="1" height="5"/>
<rect x="586" y="820.1" width="1" height="1.9"/>
<rect x="594" y="823" width="1" height="1"/>
<rect x="610" y="821" width="1" height="1"/>
<rect x="618" y="819.9" width="1" height="2.1"/>
<rect x="626" y="818.2" width="1" height="3.8"/>
<rect x="634" y="818.2" width="1" height="3.8"/>
<rect x="642" y="820.1" width="1" height="1.9"/>
<rect x="650" y="823" width="1" height="1.9"/>
<rect x="658" y="823" width="1" height="4.7"/>
<rect x="666" y="823" width="1" height="11.6"/>
<rect x="674" y="823" width="1" height="18.6"/>
<rect x="682" y="823" width="1" height="26.9"/>
<rect x="690" y="823" width="1" height="28.7"/>
<rect x="698" y="823" width="1" height="31.6"/>
<rect x="706" y="823" width="1" height="36.6"/>
<rect x="714" y="823" width="1" height="43.7"/>
<rect x="722" y="823" width="1" height="51.7"/>
<rect x="730" y="823" width="1" height="63.6"/>
<rect x="738" y="823" width="1" height="67.6"/>
<rect x="746" y="823" width="1" height="69.9"/>
<rect x="754" y="823" width="1" height="70.9"/>
<rect x="762" y="823" width="1" height="72.6"/>
<rect x="770" y="823" width="1" height="72.6"/>
<rect x="778" y="823" width="1" height="70.9"/>
<rect x="786" y="823" width="1" height="70.9"/>
<rect x="794" y="823" width="1" height="66.7"/>
<rect x="802" y="823" width="1" height="61.7"/>
<rect x="810" y="823" width="1" height="55.8"/>
<rect x="818" y="823" width="1" height="48.8"/>
<rect x="826" y="823" width="1" height="42.9"/>
<rect x="834" y="823" width="1" height="38.7"/>
<rect x="842" y="823" width="1" height="34.1"/>
<rect x="850" y="823" width="1" height="29.7"/>
<rect x="858" y="823" width="1" height="26.9"/>
<rect x="866" y="823" width="1" height="24.8"/>
<rect x="874" y="823" width="1" height="23.7"/>
<rect x="882" y="823" width="1" height="22.9"/>
<rect x="890" y="823" width="1" height="23.7"/>
<rect x="898" y="823" width="1" height="20.7"/>
<rect x="906" y="823" width="1" height="16.6"/>
<rect x="914" y="823" width="1" height="12.8"/>
<rect x="922" y="823" width="1" height="8.7"/>
<rect x="930" y="823" width="1" height="6.9"/>
<rect x="938" y="823" width="1" height="5.7"/>
<rect x="946" y="823" width="1" height="1.5"/>
<rect x="954" y="820.1" width="1" height="1.9"/>
<rect x="962" y="815.1" width="1" height="6.9"/>
<rect x="970" y="813.9" width="1" height="8.1"/>
<rect x="978" y="813.2" width="1" height="8.8"/>
<rect x="986" y="811.1" width="1" height="10.9"/>
<rect x="994" y="810.1" width="1" height="11.9"/>
<rect x="1002" y="808.2" width="1" height="13.8"/>
<rect x="1010" y="808.2" width="1" height="13.8"/>
<rect x="1018" y="808.2" width="1" height="13.8"/>
<rect x="1026" y="806.1" width="1" height="15.9"/>
<rect x="1034" y="806.9" width="1" height="15.1"/>
<rect x="1042" y="806.1" width="1" height="15.9"/>
<rect x="1050" y="803.1" width="1" height="18.9"/>
<rect x="1058" y="799.1" width="1" height="22.9"/>
<rect x="1066" y="796.9" width="1" height="25.1"/>
<rect x="1074" y="795.1" width="1" height="26.9"/>
<rect x="1082" y="794.1" width="1" height="27.9"/>
<rect x="1090" y="795.1" width="1" height="26.9"/>
<rect x="1098" y="798.2" width="1" height="23.8"/>
<rect x="1106" y="799.8" width="1" height="22.2"/>
<rect x="1114" y="802" width="1" height="20"/>
<rect x="1122" y="803" width="1" height="19"/>
<rect x="1130" y="803.9" width="1" height="18.1"/>
<rect x="1138" y="803.9" width="1" height="18.1"/>
<rect x="1146" y="805.1" width="1" height="16.9"/>
<rect x="1154" y="804.9" width="1" height="17.1"/>
<rect x="1162" y="806.1" width="1" height="15.9"/>
<rect x="1170" y="807" width="1" height="15"/>
<rect x="1178" y="812" width="1" height="10"/>
<rect x="1186" y="815.2" width="1" height="6.8"/>
<rect x="1202" y="823" width="1" height="3.7"/>
<rect x="1210" y="823" width="1" height="7.8"/>
<rect x="1218" y="823" width="1" height="7.8"/>
<rect x="1226" y="823" width="1" height="7.8"/>
<rect x="1234" y="823" width="1" height="9.7"/>
</g>
<g clip-path="url(#cd)"><polyline points="2,830.3 20,828.3 36,826.2 50,823.2 66,821.2 74,820.978 82,820.7 90,820.389 98,819.633 106,818.544 114,817.544 122,816.433 130,814.711 138,812.722 146,810.733 154,808.5 162,806.044 170,803.922 178,801.8 186,799.344 194,796.889 202,794.544 210,791.978 218,789.522 226,787.511 234,786.178 242,785.4 250,785.844 258,787.4 266,789.856 274,793.067 282,797.178 290,801.289 298,805.611 306,809.511 314,812.822 322,815.356 330,817.456 338,818.989 346,820.3 354,821.489 362,822.678 370,822.967 378,823.078 386,823.189 394,822.867 402,822.111 410,821 418,819.256 426,816.744 434,814.022 442,811.744 450,809.511 458,807.422 466,805.756 474,804.844 482,804.744 490,805.3 498,806.522 506,808.056 514,809.856 522,811.522 530,812.867 538,814.011 546,814.567 554,814.667 562,814.356 570,814.311 578,814.311 586,814.522 594,815.356 602,816.389 610,817.356 618,818.233 626,818.922 634,819.578 642,820.067 650,820.944 658,821.789 666,823.011 674,825.133 682,828.344 690,831.878 698,835.922 706,840.522 714,845.7 722,851.233 730,857.778 738,864 746,869.7 754,874.589 762,879.467 770,884.022 778,887.833 786,890.856 794,892.522 802,892.311 810,891 818,888.656 826,885.544 834,881.778 842,877.5 850,872.922 858,868.033 866,863.378 874,859.156 882,855.5 890,852.711 898,850.244 906,847.789 914,845.422 922,843.089 930,840.867 938,838.744 946,836.278 954,833.411 962,829.9 970,826.589 978,823.656 986,820.911 994,818.511 1002,816.1 1010,813.822 1018,812.011 1026,810.456 1034,809.544 1042,808.678 1050,807.556 1058,806.222 1066,804.756 1074,803.3 1082,801.733 1090,800.278 1098,799.4 1106,798.611 1114,798.156 1122,798.144 1130,798.678 1138,799.456 1146,800.567 1154,801.767 1162,802.989 1170,803.967 1178,805.322 1186,806.789 1194,808.956 1202,811.489 1210,814.478 1218,817.333 1226,820.211 1234,823.167" fill="none" stroke="#ff0000" stroke-width="1" stroke-dasharray="3 3" shape-rendering="crispEdges"/></g>
<text x="5" y="780.2" font-size="9.5" fill="#000" textLength="134.80" lengthAdjust="spacingAndGlyphs" style="font-family:"DejaVu Sans Condensed", "DejaVu Sans", sans-serif;font-stretch:condensed">MACD(12,26,9) -0.1752 -0.0087</text>
<text x="1249.9" y="812.0" font-size="16.0" fill="#000" textLength="258.9" lengthAdjust="spacingAndGlyphs">MACD weakens below red signal line</text>
<g shape-rendering="crispEdges" fill="none" stroke="#000" stroke-width="1">
<rect x="2.5" y="2.5" width="1538" height="630"/>
<rect x="2.5" y="634.5" width="1538" height="132"/>
<rect x="2.5" y="768.5" width="1538" height="139"/>
</g>
<g shape-rendering="crispEdges" stroke="#000" stroke-width="1">
<line x1="1540" y1="24.5" x2="1545" y2="24.5"/>
<line x1="1540" y1="56.5" x2="1545" y2="56.5"/>
<line x1="1540" y1="88.5" x2="1545" y2="88.5"/>
<line x1="1540" y1="120.5" x2="1545" y2="120.5"/>
<line x1="1540" y1="152.5" x2="1545" y2="152.5"/>
<line x1="1540" y1="184.5" x2="1545" y2="184.5"/>
<line x1="1540" y1="216.5" x2="1545" y2="216.5"/>
<line x1="1540" y1="248.5" x2="1545" y2="248.5"/>
<line x1="1540" y1="280.5" x2="1545" y2="280.5"/>
<line x1="1540" y1="312.5" x2="1545" y2="312.5"/>
<line x1="1540" y1="344.5" x2="1545" y2="344.5"/>
<line x1="1540" y1="376.5" x2="1545" y2="376.5"/>
<line x1="1540" y1="408.5" x2="1545" y2="408.5"/>
<line x1="1540" y1="440.5" x2="1545" y2="440.5"/>
<line x1="1540" y1="472.5" x2="1545" y2="472.5"/>
<line x1="1540" y1="504.5" x2="1545" y2="504.5"/>
<line x1="1540" y1="536.5" x2="1545" y2="536.5"/>
<line x1="1540" y1="568.5" x2="1545" y2="568.5"/>
<line x1="1540" y1="600.5" x2="1545" y2="600.5"/>
</g>
<g class="ax">
<text x="1546" y="27.7" font-size="9.5" fill="#000" textLength="32.51" lengthAdjust="spacingAndGlyphs" style="font-family:"DejaVu Sans Condensed", "DejaVu Sans", sans-serif;font-stretch:condensed">115.770</text>
<text x="1546" y="59.7" font-size="9.5" fill="#000" textLength="32.51" lengthAdjust="spacingAndGlyphs" style="font-family:"DejaVu Sans Condensed", "DejaVu Sans", sans-serif;font-stretch:condensed">115.100</text>
<text x="1546" y="91.7" font-size="9.5" fill="#000" textLength="32.51" lengthAdjust="spacingAndGlyphs" style="font-family:"DejaVu Sans Condensed", "DejaVu Sans", sans-serif;font-stretch:condensed">114.430</text>
<text x="1546" y="123.7" font-size="9.5" fill="#000" textLength="32.51" lengthAdjust="spacingAndGlyphs" style="font-family:"DejaVu Sans Condensed", "DejaVu Sans", sans-serif;font-stretch:condensed">113.760</text>
<text x="1546" y="155.7" font-size="9.5" fill="#000" textLength="32.51" lengthAdjust="spacingAndGlyphs" style="font-family:"DejaVu Sans Condensed", "DejaVu Sans", sans-serif;font-stretch:condensed">113.090</text>
<text x="1546" y="187.7" font-size="9.5" fill="#000" textLength="32.51" lengthAdjust="spacingAndGlyphs" style="font-family:"DejaVu Sans Condensed", "DejaVu Sans", sans-serif;font-stretch:condensed">112.420</text>
<text x="1546" y="219.7" font-size="9.5" fill="#000" textLength="32.51" lengthAdjust="spacingAndGlyphs" style="font-family:"DejaVu Sans Condensed", "DejaVu Sans", sans-serif;font-stretch:condensed">111.750</text>
<text x="1546" y="251.7" font-size="9.5" fill="#000" textLength="32.51" lengthAdjust="spacingAndGlyphs" style="font-family:"DejaVu Sans Condensed", "DejaVu Sans", sans-serif;font-stretch:condensed">111.080</text>
<text x="1546" y="283.7" font-size="9.5" fill="#000" textLength="32.51" lengthAdjust="spacingAndGlyphs" style="font-family:"DejaVu Sans Condensed", "DejaVu Sans", sans-serif;font-stretch:condensed">110.410</text>
<text x="1546" y="315.7" font-size="9.5" fill="#000" textLength="32.51" lengthAdjust="spacingAndGlyphs" style="font-family:"DejaVu Sans Condensed", "DejaVu Sans", sans-serif;font-stretch:condensed">109.740</text>
<text x="1546" y="347.7" font-size="9.5" fill="#000" textLength="32.51" lengthAdjust="spacingAndGlyphs" style="font-family:"DejaVu Sans Condensed", "DejaVu Sans", sans-serif;font-stretch:condensed">109.070</text>
<text x="1546" y="379.7" font-size="9.5" fill="#000" textLength="32.51" lengthAdjust="spacingAndGlyphs" style="font-family:"DejaVu Sans Condensed", "DejaVu Sans", sans-serif;font-stretch:condensed">108.400</text>
<text x="1546" y="411.7" font-size="9.5" fill="#000" textLength="32.51" lengthAdjust="spacingAndGlyphs" style="font-family:"DejaVu Sans Condensed", "DejaVu Sans", sans-serif;font-stretch:condensed">107.730</text>
<text x="1546" y="443.7" font-size="9.5" fill="#000" textLength="32.51" lengthAdjust="spacingAndGlyphs" style="font-family:"DejaVu Sans Condensed", "DejaVu Sans", sans-serif;font-stretch:condensed">107.060</text>
<text x="1546" y="475.7" font-size="9.5" fill="#000" textLength="32.51" lengthAdjust="spacingAndGlyphs" style="font-family:"DejaVu Sans Condensed", "DejaVu Sans", sans-serif;font-stretch:condensed">106.390</text>
<text x="1546" y="507.7" font-size="9.5" fill="#000" textLength="32.51" lengthAdjust="spacingAndGlyphs" style="font-family:"DejaVu Sans Condensed", "DejaVu Sans", sans-serif;font-stretch:condensed">105.720</text>
<text x="1546" y="539.7" font-size="9.5" fill="#000" textLength="32.51" lengthAdjust="spacingAndGlyphs" style="font-family:"DejaVu Sans Condensed", "DejaVu Sans", sans-serif;font-stretch:condensed">105.050</text>
<text x="1546" y="571.7" font-size="9.5" fill="#000" textLength="32.51" lengthAdjust="spacingAndGlyphs" style="font-family:"DejaVu Sans Condensed", "DejaVu Sans", sans-serif;font-stretch:condensed">104.380</text>
<text x="1546" y="603.7" font-size="9.5" fill="#000" textLength="32.51" lengthAdjust="spacingAndGlyphs" style="font-family:"DejaVu Sans Condensed", "DejaVu Sans", sans-serif;font-stretch:condensed">103.710</text>
</g>
<rect x="1543" y="118" width="39" height="11" fill="#000" shape-rendering="crispEdges"/>
<text x="1546" y="126.7" font-size="9.5" fill="#fff" textLength="32.51" lengthAdjust="spacingAndGlyphs" style="font-family:"DejaVu Sans Condensed", "DejaVu Sans", sans-serif;font-stretch:condensed">113.700</text>
<rect x="1543" y="164" width="39" height="11" fill="#000" shape-rendering="crispEdges"/>
<text x="1546" y="172.7" font-size="9.5" fill="#fff" textLength="32.51" lengthAdjust="spacingAndGlyphs" style="font-family:"DejaVu Sans Condensed", "DejaVu Sans", sans-serif;font-stretch:condensed">112.750</text>
<rect x="1543" y="185" width="39" height="11" fill="#000" shape-rendering="crispEdges"/>
<text x="1546" y="193.7" font-size="9.5" fill="#fff" textLength="32.51" lengthAdjust="spacingAndGlyphs" style="font-family:"DejaVu Sans Condensed", "DejaVu Sans", sans-serif;font-stretch:condensed">112.300</text>
<rect x="1543" y="249" width="39" height="11" fill="#000" shape-rendering="crispEdges"/>
<text x="1546" y="257.7" font-size="9.5" fill="#fff" textLength="32.51" lengthAdjust="spacingAndGlyphs" style="font-family:"DejaVu Sans Condensed", "DejaVu Sans", sans-serif;font-stretch:condensed">110.950</text>
<rect x="1543" y="291" width="39" height="11" fill="#778899" shape-rendering="crispEdges"/>
<text x="1546" y="299.7" font-size="9.5" fill="#fff" textLength="32.51" lengthAdjust="spacingAndGlyphs" style="font-family:"DejaVu Sans Condensed", "DejaVu Sans", sans-serif;font-stretch:condensed">110.078</text>
<g shape-rendering="crispEdges" stroke="#000" stroke-width="1">
<line x1="1540" y1="634.5" x2="1545" y2="634.5"/>
<line x1="1540" y1="674.5" x2="1545" y2="674.5"/>
<line x1="1540" y1="700.5" x2="1545" y2="700.5"/>
<line x1="1540" y1="726.5" x2="1545" y2="726.5"/>
<line x1="1540" y1="765.5" x2="1545" y2="765.5"/>
<line x1="1540" y1="768.5" x2="1545" y2="768.5"/>
<line x1="1540" y1="822.5" x2="1545" y2="822.5"/>
<line x1="1540" y1="906.5" x2="1545" y2="906.5"/>
</g>
<g class="ax">
<text x="1546" y="643.0" font-size="9.5" fill="#000" textLength="27.80" lengthAdjust="spacingAndGlyphs" style="font-family:"DejaVu Sans Condensed", "DejaVu Sans", sans-serif;font-stretch:condensed">100.00</text>
<text x="1545.5" y="677.8000000000001" font-size="9.5" fill="#000" textLength="22.75" lengthAdjust="spacingAndGlyphs" style="font-family:"DejaVu Sans Condensed", "DejaVu Sans", sans-serif;font-stretch:condensed">70.00</text>
<text x="1545.5" y="703.7" font-size="9.5" fill="#000" textLength="22.75" lengthAdjust="spacingAndGlyphs" style="font-family:"DejaVu Sans Condensed", "DejaVu Sans", sans-serif;font-stretch:condensed">50.00</text>
<text x="1545.5" y="729.7" font-size="9.5" fill="#000" textLength="22.75" lengthAdjust="spacingAndGlyphs" style="font-family:"DejaVu Sans Condensed", "DejaVu Sans", sans-serif;font-stretch:condensed">30.00</text>
<text x="1545.5" y="763.7" font-size="9.5" fill="#000" textLength="17.69" lengthAdjust="spacingAndGlyphs" style="font-family:"DejaVu Sans Condensed", "DejaVu Sans", sans-serif;font-stretch:condensed">0.00</text>
<text x="1546" y="776.8000000000001" font-size="9.5" fill="#000" textLength="27.80" lengthAdjust="spacingAndGlyphs" style="font-family:"DejaVu Sans Condensed", "DejaVu Sans", sans-serif;font-stretch:condensed">0.9142</text>
<text x="1546" y="825.7" font-size="9.5" fill="#000" textLength="27.80" lengthAdjust="spacingAndGlyphs" style="font-family:"DejaVu Sans Condensed", "DejaVu Sans", sans-serif;font-stretch:condensed">0.0000</text>
<text x="1546" y="904.7" font-size="9.5" fill="#000" textLength="30.67" lengthAdjust="spacingAndGlyphs" style="font-family:"DejaVu Sans Condensed", "DejaVu Sans", sans-serif;font-stretch:condensed">-1.4353</text>
</g>
<g shape-rendering="crispEdges" stroke="#000" stroke-width="1">
<line x1="2.5" y1="907" x2="2.5" y2="912"/>
<line x1="66.5" y1="907" x2="66.5" y2="912"/>
<line x1="130.5" y1="907" x2="130.5" y2="912"/>
<line x1="194.5" y1="907" x2="194.5" y2="912"/>
<line x1="258.5" y1="907" x2="258.5" y2="912"/>
<line x1="322.5" y1="907" x2="322.5" y2="912"/>
<line x1="386.5" y1="907" x2="386.5" y2="912"/>
<line x1="450.5" y1="907" x2="450.5" y2="912"/>
<line x1="514.5" y1="907" x2="514.5" y2="912"/>
<line x1="578.5" y1="907" x2="578.5" y2="912"/>
<line x1="642.5" y1="907" x2="642.5" y2="912"/>
<line x1="706.5" y1="907" x2="706.5" y2="912"/>
<line x1="770.5" y1="907" x2="770.5" y2="912"/>
<line x1="834.5" y1="907" x2="834.5" y2="912"/>
<line x1="898.5" y1="907" x2="898.5" y2="912"/>
<line x1="962.5" y1="907" x2="962.5" y2="912"/>
<line x1="1026.5" y1="907" x2="1026.5" y2="912"/>
<line x1="1090.5" y1="907" x2="1090.5" y2="912"/>
<line x1="1154.5" y1="907" x2="1154.5" y2="912"/>
<line x1="1218.5" y1="907" x2="1218.5" y2="912"/>
</g>
<g class="ax">
<text x="2" y="919.5" font-size="9.5" fill="#000" textLength="52.55" lengthAdjust="spacingAndGlyphs" style="font-family:"DejaVu Sans Condensed", "DejaVu Sans", sans-serif;font-stretch:condensed">28 Aug 2018</text>
<text x="66" y="919.5" font-size="9.5" fill="#000" textLength="46.78" lengthAdjust="spacingAndGlyphs" style="font-family:"DejaVu Sans Condensed", "DejaVu Sans", sans-serif;font-stretch:condensed">7 Sep 2018</text>
<text x="130" y="919.5" font-size="9.5" fill="#000" textLength="51.99" lengthAdjust="spacingAndGlyphs" style="font-family:"DejaVu Sans Condensed", "DejaVu Sans", sans-serif;font-stretch:condensed">19 Sep 2018</text>
<text x="194" y="919.5" font-size="9.5" fill="#000" textLength="45.49" lengthAdjust="spacingAndGlyphs" style="font-family:"DejaVu Sans Condensed", "DejaVu Sans", sans-serif;font-stretch:condensed">1 Oct 2018</text>
<text x="258" y="919.5" font-size="9.5" fill="#000" textLength="50.71" lengthAdjust="spacingAndGlyphs" style="font-family:"DejaVu Sans Condensed", "DejaVu Sans", sans-serif;font-stretch:condensed">11 Oct 2018</text>
<text x="322" y="919.5" font-size="9.5" fill="#000" textLength="50.71" lengthAdjust="spacingAndGlyphs" style="font-family:"DejaVu Sans Condensed", "DejaVu Sans", sans-serif;font-stretch:condensed">23 Oct 2018</text>
<text x="386" y="919.5" font-size="9.5" fill="#000" textLength="47.31" lengthAdjust="spacingAndGlyphs" style="font-family:"DejaVu Sans Condensed", "DejaVu Sans", sans-serif;font-stretch:condensed">1 Nov 2018</text>
<text x="450" y="919.5" font-size="9.5" fill="#000" textLength="52.53" lengthAdjust="spacingAndGlyphs" style="font-family:"DejaVu Sans Condensed", "DejaVu Sans", sans-serif;font-stretch:condensed">13 Nov 2018</text>
<text x="514" y="919.5" font-size="9.5" fill="#000" textLength="52.53" lengthAdjust="spacingAndGlyphs" style="font-family:"DejaVu Sans Condensed", "DejaVu Sans", sans-serif;font-stretch:condensed">23 Nov 2018</text>
<text x="578" y="919.5" font-size="9.5" fill="#000" textLength="47.19" lengthAdjust="spacingAndGlyphs" style="font-family:"DejaVu Sans Condensed", "DejaVu Sans", sans-serif;font-stretch:condensed">5 Dec 2018</text>
<text x="642" y="919.5" font-size="9.5" fill="#000" textLength="52.40" lengthAdjust="spacingAndGlyphs" style="font-family:"DejaVu Sans Condensed", "DejaVu Sans", sans-serif;font-stretch:condensed">17 Dec 2018</text>
<text x="706" y="919.5" font-size="9.5" fill="#000" textLength="52.40" lengthAdjust="spacingAndGlyphs" style="font-family:"DejaVu Sans Condensed", "DejaVu Sans", sans-serif;font-stretch:condensed">28 Dec 2018</text>
<text x="770" y="919.5" font-size="9.5" fill="#000" textLength="49.17" lengthAdjust="spacingAndGlyphs" style="font-family:"DejaVu Sans Condensed", "DejaVu Sans", sans-serif;font-stretch:condensed">10 Jan 2019</text>
<text x="834" y="919.5" font-size="9.5" fill="#000" textLength="49.17" lengthAdjust="spacingAndGlyphs" style="font-family:"DejaVu Sans Condensed", "DejaVu Sans", sans-serif;font-stretch:condensed">22 Jan 2019</text>
<text x="898" y="919.5" font-size="9.5" fill="#000" textLength="46.29" lengthAdjust="spacingAndGlyphs" style="font-family:"DejaVu Sans Condensed", "DejaVu Sans", sans-serif;font-stretch:condensed">1 Feb 2019</text>
<text x="962" y="919.5" font-size="9.5" fill="#000" textLength="51.50" lengthAdjust="spacingAndGlyphs" style="font-family:"DejaVu Sans Condensed", "DejaVu Sans", sans-serif;font-stretch:condensed">13 Feb 2019</text>
<text x="1026" y="919.5" font-size="9.5" fill="#000" textLength="51.50" lengthAdjust="spacingAndGlyphs" style="font-family:"DejaVu Sans Condensed", "DejaVu Sans", sans-serif;font-stretch:condensed">25 Feb 2019</text>
<text x="1090" y="919.5" font-size="9.5" fill="#000" textLength="46.78" lengthAdjust="spacingAndGlyphs" style="font-family:"DejaVu Sans Condensed", "DejaVu Sans", sans-serif;font-stretch:condensed">7 Mar 2019</text>
<text x="1154" y="919.5" font-size="9.5" fill="#000" textLength="52.00" lengthAdjust="spacingAndGlyphs" style="font-family:"DejaVu Sans Condensed", "DejaVu Sans", sans-serif;font-stretch:condensed">17 Mar 2019</text>
<text x="1218" y="919.5" font-size="9.5" fill="#000" textLength="52.00" lengthAdjust="spacingAndGlyphs" style="font-family:"DejaVu Sans Condensed", "DejaVu Sans", sans-serif;font-stretch:condensed">26 Mar 2019</text>
</g>
</svg></body></html>
